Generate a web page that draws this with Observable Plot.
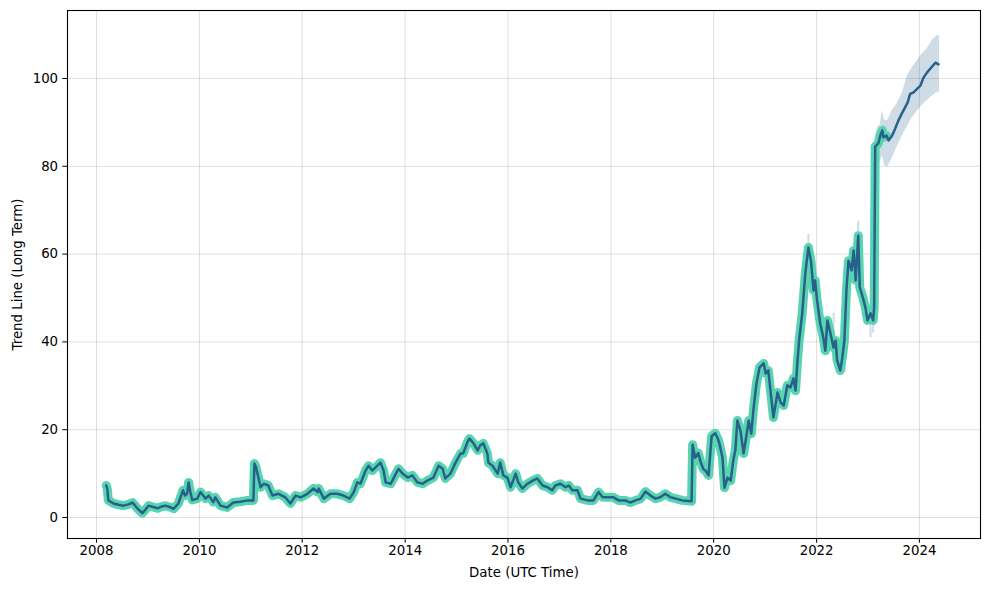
<!DOCTYPE html>
<html><head><meta charset="utf-8">
<script src="https://cdn.jsdelivr.net/npm/d3@7"></script>
<script src="https://cdn.jsdelivr.net/npm/@observablehq/plot@0.6"></script>
<style>body{margin:0;background:#fff;} svg{font-family:"DejaVu Sans",sans-serif;}</style>
</head><body><div id="chart"></div>
<script>
// Observed history (decimal year, value)
const histYears = [2008.19,2008.21,2008.23,2008.33,2008.43,2008.52,2008.62,2008.70,2008.80,2008.89,2008.95,2009.01,2009.10,2009.18,2009.26,2009.34,2009.42,2009.50,2009.59,2009.68,2009.72,2009.76,2009.79,2009.82,2009.86,2009.96,2010.02,2010.12,2010.18,2010.27,2010.31,2010.41,2010.54,2010.66,2010.80,2010.93,2011.05,2011.07,2011.10,2011.13,2011.19,2011.25,2011.34,2011.42,2011.54,2011.67,2011.77,2011.87,2011.97,2012.10,2012.22,2012.30,2012.32,2012.42,2012.55,2012.68,2012.80,2012.92,2013.00,2013.07,2013.13,2013.23,2013.29,2013.36,2013.46,2013.52,2013.58,2013.62,2013.72,2013.82,2013.87,2013.95,2014.05,2014.14,2014.24,2014.34,2014.43,2014.55,2014.65,2014.73,2014.78,2014.88,2014.98,2015.08,2015.13,2015.21,2015.25,2015.33,2015.41,2015.46,2015.52,2015.60,2015.62,2015.70,2015.80,2015.85,2015.91,2015.99,2016.05,2016.15,2016.20,2016.28,2016.38,2016.48,2016.57,2016.67,2016.77,2016.86,2016.92,2017.02,2017.12,2017.18,2017.25,2017.35,2017.41,2017.55,2017.66,2017.76,2017.84,2017.93,2018.05,2018.15,2018.28,2018.38,2018.48,2018.58,2018.67,2018.77,2018.87,2018.96,2019.06,2019.16,2019.26,2019.39,2019.57,2019.59,2019.64,2019.70,2019.75,2019.80,2019.84,2019.90,2019.96,2020.03,2020.08,2020.11,2020.17,2020.21,2020.27,2020.33,2020.38,2020.42,2020.46,2020.52,2020.58,2020.62,2020.68,2020.73,2020.77,2020.83,2020.89,2020.97,2021.01,2021.06,2021.12,2021.16,2021.24,2021.30,2021.36,2021.43,2021.49,2021.55,2021.59,2021.63,2021.66,2021.72,2021.78,2021.84,2021.89,2021.94,2021.97,2022.01,2022.07,2022.13,2022.17,2022.21,2022.27,2022.33,2022.37,2022.40,2022.46,2022.50,2022.54,2022.58,2022.62,2022.68,2022.72,2022.76,2022.81,2022.84,2022.90,2022.95,2022.99,2023.05,2023.10,2023.12,2023.14,2023.20,2023.24,2023.28,2023.30,2023.36];
const histValues = [7.3,6.5,3.9,3.2,2.9,2.7,3.0,3.4,2.0,1.0,1.8,2.7,2.4,2.1,2.5,2.7,2.4,2.0,3.2,6.2,5.0,5.4,8.0,6.0,4.0,4.3,5.8,4.3,5.0,3.5,4.6,2.7,2.3,3.4,3.6,3.9,3.9,12.3,11.5,10.0,6.9,7.7,7.3,5.0,5.4,4.6,3.2,5.0,4.6,5.4,6.6,5.8,6.6,4.3,5.4,5.4,5.0,4.3,5.8,8.0,7.7,10.7,11.8,10.7,11.8,12.5,10.7,8.0,7.7,10.0,11.1,10.0,9.1,9.6,8.0,7.7,8.4,9.1,11.8,11.1,8.9,10.0,12.5,14.6,14.6,17.1,18.0,16.9,15.3,16.4,16.9,14.6,12.5,11.8,10.0,12.5,9.6,9.1,6.9,10.0,8.0,6.6,7.7,8.4,8.9,7.3,6.9,6.2,7.3,7.7,6.9,7.3,6.2,6.2,4.3,3.9,3.9,5.8,4.6,4.6,4.6,3.9,3.9,3.4,3.9,4.3,5.9,5.0,4.3,4.6,5.4,4.6,4.3,3.9,3.7,16.6,13.6,14.7,12.5,11.0,10.7,9.6,18.5,19.2,18.0,16.9,13.7,6.8,9.1,8.4,13.0,15.3,22.1,19.8,14.6,17.5,22.1,19.1,24.4,30.5,34.2,35.1,32.8,33.5,27.1,22.8,28.5,26.2,25.5,30.1,29.6,31.7,28.9,36.0,40.3,46.5,55.6,61.5,58.5,51.7,54.0,49.4,44.2,41.0,38.0,44.9,41.9,38.7,40.3,35.8,33.5,36.4,40.3,51.7,58.5,56.3,60.8,54.0,64.2,52.4,50.1,47.8,44.9,46.5,44.9,47.8,84.5,85.2,87.0,88.2,86.6,87.0];

// Forecast trend line
const fcYears = [2023.36,2023.40,2023.47,2023.53,2023.59,2023.67,2023.77,2023.82,2023.88,2023.96,2024.02,2024.08,2024.15,2024.23,2024.31,2024.37];
const fcValues = [87.0,85.9,87.0,88.6,90.4,92.3,94.5,96.5,96.8,97.7,98.4,100.2,101.4,102.5,103.6,103.2];

// Uncertainty band
const bandYears = [2023.14,2023.18,2023.24,2023.28,2023.32,2023.38,2023.47,2023.57,2023.67,2023.77,2023.86,2023.96,2024.06,2024.15,2024.25,2024.35,2024.39];
const bandLow =  [80.6,80.5,81.0,82.5,80.2,79.8,81.8,84.5,87.0,89.2,91.0,92.6,94.0,95.0,96.0,96.8,96.9];
const bandHigh = [86.8,88.8,89.5,92.7,90.5,90.4,92.7,94.3,96.8,100.7,102.5,104.1,105.7,106.8,108.7,109.8,109.8];

// Small visible uncertainty spikes in history
const spikeYears = [2021.84,2022.33,2022.55,2022.81,2023.05,2023.10];
const spikeLow = [58,36,33,60,41,42];
const spikeHigh = [64.5,46.5,42,67.5,48,49];

const xTickYears = [2008,2010,2012,2014,2016,2018,2020,2022,2024];
const yTicks = [0,20,40,60,80,100];

function toDate(y){const yr=Math.floor(y);const s=Date.UTC(yr,0,1),e=Date.UTC(yr+1,0,1);return new Date(s+(y-yr)*(e-s));}

const hist = histYears.map((y,i)=>({date:toDate(y), v:histValues[i]}));
const all = hist.concat(fcYears.slice(1).map((y,i)=>({date:toDate(y), v:fcValues[i+1]})));
const band = bandYears.map((y,i)=>({date:toDate(y), lo:bandLow[i], hi:bandHigh[i]}));
const spikes = spikeYears.map((y,i)=>({date:toDate(y), lo:spikeLow[i], hi:spikeHigh[i]}));
const xTicks = xTickYears.map(y=>new Date(Date.UTC(y,0,1)));

const dark = "#27608a";
const chart = Plot.plot({
  width: 990, height: 590,
  marginLeft: 67, marginRight: 10, marginTop: 10, marginBottom: 52,
  x: {type:"utc", domain:[toDate(2007.436), toDate(2025.186)]},
  y: {domain:[-4.78, 115.49]},
  style: {fontFamily:"DejaVu Sans, sans-serif", fontSize:"13.33px", color:"black", background:"white", overflow:"visible"},
  marks: [
    Plot.gridX(xTicks, {stroke:"#b0b0b0", strokeOpacity:0.4, strokeWidth:1}),
    Plot.gridY(yTicks, {stroke:"#b0b0b0", strokeOpacity:0.4, strokeWidth:1}),
    Plot.ruleX(spikes, {x:"date", y1:"lo", y2:"hi", stroke:dark, strokeOpacity:0.22, strokeWidth:2}),
    Plot.areaY(band, {x:"date", y1:"lo", y2:"hi", fill:dark, fillOpacity:0.22, curve:"linear"}),
    Plot.line(hist, {x:"date", y:"v", stroke:"#58d5b0", strokeWidth:9, strokeLinejoin:"round", strokeLinecap:"round"}),
    Plot.line(all, {x:"date", y:"v", stroke:dark, strokeWidth:2.5, strokeLinejoin:"round"}),
    Plot.frame({stroke:"black", strokeWidth:1.1}),
    Plot.axisX(xTicks, {tickFormat:d3.utcFormat("%Y"), tickSize:4.7, tickPadding:2.5, fontSize:13.33, label:null, stroke:"black"}),
    Plot.axisY(yTicks, {tickSize:4.7, tickPadding:4.7, fontSize:13.33, label:null, stroke:"black"}),
    Plot.text(["Date (UTC Time)"], {frameAnchor:"bottom", dy:34, lineAnchor:"middle", fontSize:13.33, fill:"black"}),
    Plot.text(["Trend Line (Long Term)"], {frameAnchor:"left", dx:-50, rotate:-90, textAnchor:"middle", lineAnchor:"middle", fontSize:13.33, fill:"black"})
  ]
});
document.getElementById("chart").appendChild(chart);
</script></body></html>
